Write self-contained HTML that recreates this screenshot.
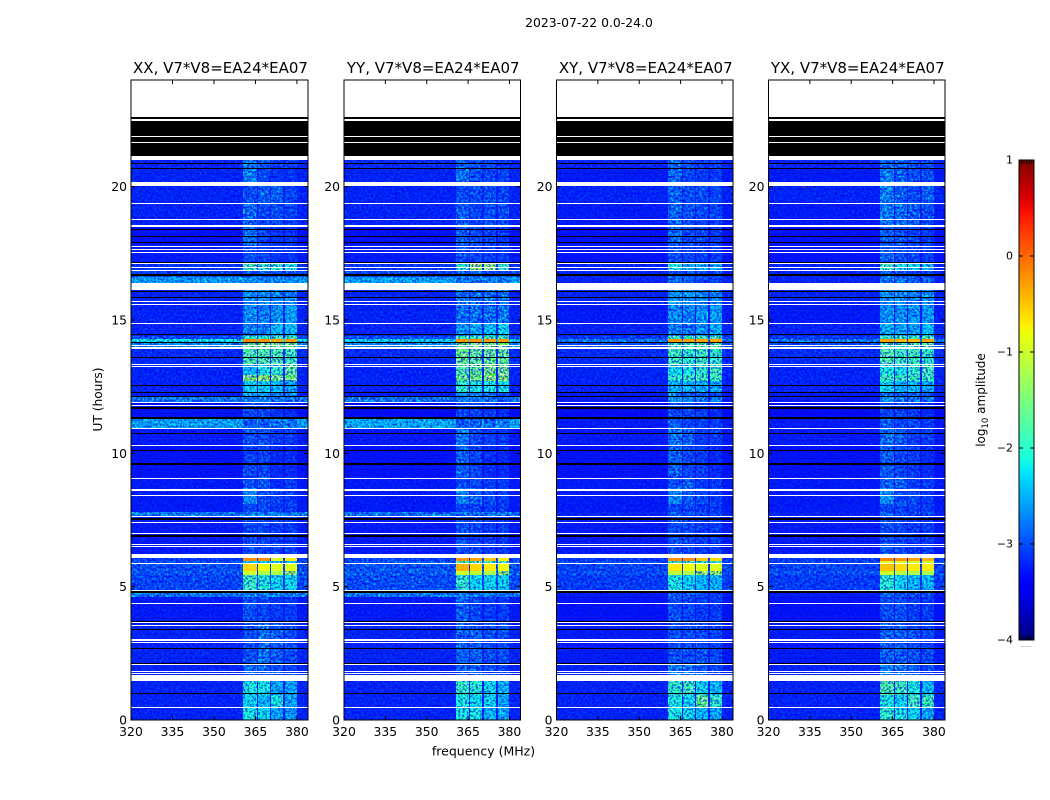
<!DOCTYPE html>
<html lang="en">
<head>
<meta charset="utf-8">
<title>2023-07-22 baseline amplitude</title>
<style>
html,body{margin:0;padding:0;background:#fff;width:1050px;height:800px;overflow:hidden}
svg{display:block}
text{font-family:"DejaVu Sans","Liberation Sans",sans-serif;fill:#000}
.tick{font-size:12.4px}
.speckle{mix-blend-mode:overlay}
</style>
</head>
<body>
<svg id="chart" xmlns="http://www.w3.org/2000/svg" width="1050" height="800" viewBox="0 0 1050 800">
<defs>
<filter id="grain" x="0" y="0" width="100%" height="100%" color-interpolation-filters="sRGB">
<feTurbulence type="fractalNoise" baseFrequency="0.42" numOctaves="2" seed="7"/>
<feColorMatrix type="matrix" values="2.2 0 0 0 -0.6  2.2 0 0 0 -0.6  2.2 0 0 0 -0.6  0 0 0 0 1"/>
</filter>
<filter id="dark-grain" x="0" y="0" width="100%" height="100%" color-interpolation-filters="sRGB">
<feTurbulence type="fractalNoise" baseFrequency="0.46" numOctaves="2" seed="23"/>
<feColorMatrix type="matrix" values="0 0 0 0 0  0 0 0 0 0.12  0 0 0 0 0.85  0 5 0 0 -2.3"/>
</filter>
<linearGradient id="cbar-gradient" x1="0" y1="1" x2="0" y2="0"></linearGradient>
</defs>
<text x="589" y="27" text-anchor="middle" font-size="12.4">2023-07-22 0.0-24.0</text>
<text x="483.5" y="755.5" text-anchor="middle" font-size="12.5">frequency (MHz)</text>
<text transform="translate(102,399.5) rotate(-90)" text-anchor="middle" font-size="12.2">UT (hours)</text>
<text transform="translate(985,400) rotate(-90)" text-anchor="middle" font-size="12">log<tspan font-size="8.5" dy="3">10</tspan><tspan dy="-3"> amplitude</tspan></text>
<text x="1026" y="647" text-anchor="middle" font-size="6" style="fill:#555">......</text>
<g id="panels"></g>
<g id="colorbar"></g>
</svg>
<script>
const xTicks = [320, 335, 350, 365, 380];
const yTicks = [0, 5, 10, 15, 20];
const cbarTicks = [1, 0, -1, -2, -3, -4];
const panelTitles = ["XX, V7*V8=EA24*EA07", "YY, V7*V8=EA24*EA07", "XY, V7*V8=EA24*EA07", "YX, V7*V8=EA24*EA07"];
const panelNames = ["xx", "yy", "xy", "yx"];
const freqEdges = [320, 360.6, 365.4, 365.8, 370.1, 370.7, 375.1, 375.8, 380, 384];
const columnSeries = [0, 1, 0, 2, 0, 3, 0, 4, 0];
const timeEdges = [21.15,20.7,20.02,19.36,18.5,17.8,17.13,16.83,16.62,16.37,15.55,14.9,14.4,14.27,14.12,13.9,13.35,12.95,12.7,12.25,12.11,11.88,11.35,10.93,10.3,9.1,8.7,8.1,7.8,7.6,6.09,5.97,5.86,5.6,5.45,4.84,4.6,3.6,2.1,1.47,0.95,0.5,0];

const ampXX = [
[-3.2,-2.7,-2.9,-3.05,-3.05],[-3.2,-2.65,-3,-3.1,-3.1],[-3.2,-2.95,-2.85,-2.85,-3],[-3.2,-2.8,-3,-2.95,-3],
[-3.3,-2.7,-3,-3.1,-3.1],[-3.25,-2.95,-3,-3.1,-3.1],[-3.1,-1.8,-1.95,-1.95,-2.1],[-3,-2.95,-2.85,-2.95,-2.95],
[-2.5,-2.6,-2.6,-2.6,-2.6],[-3.2,-2.55,-2.55,-2.6,-2.6],[-3.2,-2.6,-2.65,-2.55,-2.45],[-3.2,-2.65,-2.65,-2.3,-2.3],
[-2.95,-1.95,-1.95,-1.75,-1.75],[-2.15,-0.15,-0.2,-0.3,-0.25],[-2.6,-1.6,-1.5,-1.5,-1.5],[-3.15,-1.75,-1.75,-1.75,-1.85],
[-3.2,-2.35,-2.1,-1.95,-1.65],[-3.2,-1.4,-1.3,-1.5,-1.5],[-3.2,-2.2,-2.2,-2.35,-2.45],[-3.25,-2.45,-2.45,-2.55,-2.65],
[-2.7,-2.65,-2.65,-2.75,-2.75],[-3.3,-3,-3,-3.1,-3.15],[-2.45,-2.85,-2.85,-2.75,-2.75],[-3.25,-2.95,-2.95,-3.05,-3.05],
[-3.3,-3,-3,-3.15,-3.15],[-3.25,-2.95,-2.85,-3.15,-3.05],[-3.25,-2.55,-2.95,-3,-3.05],[-3.25,-3,-3,-3.05,-3.05],
[-2.65,-2.65,-2.65,-2.65,-2.65],[-3.25,-3,-3,-3.05,-3.05],[-3.05,-0.2,-0.2,-0.9,-0.7],[-2.95,-2.25,-2.25,-2.25,-2.25],
[-2.95,-0.6,-0.8,-0.9,-0.9],[-2.9,-1,-1.2,-1.2,-1.3],[-3,-1.9,-2.05,-2.2,-2.2],[-2.7,-2.65,-2.65,-2.65,-2.75],
[-3.25,-2.95,-3,-3.05,-3.05],[-3.2,-2.95,-2.75,-2.85,-2.95],[-3.2,-2.75,-2.85,-2.95,-3],[-3.2,-2.1,-2.1,-2.45,-2.45],
[-3.2,-2.2,-2.35,-2.1,-2.45],[-3.2,-2.1,-2.2,-2.45,-2.55]
];
const ampYY = [
[-3.15,-2.8,-2.95,-3,-3.05],[-3.2,-2.7,-2.95,-3,-3],[-3.2,-2.95,-2.95,-2.95,-3],[-3.2,-2.85,-3,-2.95,-2.95],
[-3.3,-2.85,-2.95,-3,-3.05],[-3.25,-2.95,-3,-3.05,-3.05],[-3.1,-2,-1.3,-1.4,-1.95],[-3,-2.85,-2.85,-2.95,-2.95],
[-2.45,-2.7,-2.7,-2.7,-2.7],[-3.2,-2.7,-2.75,-2.75,-2.7],[-3.2,-2.75,-2.75,-2.75,-2.7],[-3.2,-2.55,-2.45,-2.3,-2.2],
[-2.95,-1.85,-1.85,-1.75,-1.75],[-2.2,-0.25,-0.2,-0.25,-0.25],[-2.6,-1.5,-1.5,-1.5,-1.4],[-3.15,-1.55,-1.65,-1.6,-1.6],
[-3.2,-1.75,-1.65,-1.5,-1.5],[-3.2,-1.6,-1.5,-1.4,-1.4],[-3.2,-1.95,-2.1,-2.1,-2.1],[-3.25,-2.55,-2.55,-2.7,-2.85],
[-2.75,-2.7,-2.7,-2.75,-2.85],[-3.35,-3,-3,-3.05,-3.15],[-2.4,-2.85,-2.85,-2.85,-2.7],[-3.25,-2.7,-3,-3.05,-3.05],
[-3.3,-2.85,-3,-3.15,-3.15],[-3.25,-3,-2.95,-3.05,-3.05],[-3.25,-2.6,-2.85,-2.95,-3.05],[-3.25,-3,-3,-3.05,-3.05],
[-2.75,-2.75,-2.75,-2.75,-2.75],[-3.25,-2.95,-3,-3.05,-3.05],[-3,-0.25,-0.3,-0.5,-0.7],[-2.9,-1.75,-1.75,-1.85,-1.85],
[-2.9,-0.4,-0.6,-0.7,-0.8],[-2.85,-1,-1.1,-1.2,-1.3],[-2.95,-1.95,-2.2,-2.2,-2.2],[-2.7,-2.65,-2.65,-2.65,-2.75],
[-3.25,-2.85,-3,-3.05,-3.05],[-3.2,-2.85,-2.85,-2.95,-2.95],[-3.2,-2.85,-2.85,-2.95,-3],[-3.2,-1.9,-2,-2.2,-2.35],
[-3.2,-2.1,-2.2,-2.2,-2.45],[-3.2,-2.1,-2.1,-2.35,-2.45]
];
const ampXY = [
[-3.2,-2.8,-2.95,-3.05,-3.05],[-3.25,-2.8,-3,-3.05,-3.05],[-3.2,-2.85,-2.95,-2.95,-3],[-3.25,-2.8,-2.95,-2.95,-3],
[-3.3,-2.8,-3,-3,-3.05],[-3.3,-2.95,-3,-3.05,-3.05],[-3.2,-2.1,-2.35,-2.35,-2.35],[-3.2,-2.95,-2.95,-3,-3],
[-3.2,-2.75,-2.85,-2.95,-2.95],[-3.2,-2.5,-2.5,-2.6,-2.6],[-3.25,-2.6,-2.65,-2.55,-2.5],[-3.2,-2.65,-2.75,-2.55,-2.4],
[-3.05,-1.85,-1.85,-1.75,-1.75],[-2.7,-0.25,-0.25,-0.3,-0.3],[-3,-1.85,-1.85,-1.75,-1.75],[-3.15,-1.85,-1.95,-1.85,-1.95],
[-3.2,-2.2,-2.1,-1.95,-1.85],[-3.2,-1.95,-1.85,-1.85,-1.85],[-3.2,-2.35,-2.35,-2.45,-2.45],[-3.25,-2.75,-2.85,-2.85,-2.95],
[-3.25,-2.45,-2.55,-2.75,-2.75],[-3.35,-3,-3,-3.05,-3.15],[-3.25,-2.85,-3,-3,-3.05],[-3.25,-2.75,-2.85,-3.05,-3.05],
[-3.3,-2.85,-3,-3.05,-3.15],[-3.25,-2.95,-2.85,-3.05,-3.05],[-3.25,-2.6,-2.85,-2.95,-3.05],[-3.25,-3,-3,-3.05,-3.05],
[-3.2,-2.85,-2.95,-3,-3],[-3.25,-2.95,-3,-3.05,-3.05],[-3.05,-0.2,-0.2,-0.5,-0.6],[-3,-1.85,-1.85,-1.95,-1.95],
[-3,-0.7,-0.8,-0.9,-0.9],[-2.95,-1.1,-1.2,-1.3,-1.3],[-3.05,-2.1,-2.2,-2.35,-2.35],[-3.25,-2.85,-2.95,-2.95,-3],
[-3.3,-2.95,-3,-3.05,-3.05],[-3.25,-2.95,-2.95,-2.95,-3],[-3.2,-2.65,-2.75,-2.85,-3],[-3.2,-1.95,-1.85,-2.2,-2.35],
[-3.2,-2.1,-2.2,-1.6,-1.95],[-3.2,-2.1,-2.2,-2.35,-2.45]
];
const ampYX = [
[-3.2,-2.8,-2.85,-2.95,-3],[-3.25,-2.7,-2.85,-2.95,-2.95],[-3.2,-2.7,-2.85,-2.95,-2.85],[-3.25,-2.7,-2.75,-2.85,-2.95],
[-3.3,-2.85,-2.95,-3,-3.05],[-3.3,-2.85,-2.95,-3,-3.05],[-3.2,-1.85,-2.1,-2.2,-2.35],[-3.2,-2.85,-2.95,-3,-3],
[-3.2,-2.7,-2.75,-2.85,-2.85],[-3.2,-2.55,-2.55,-2.6,-2.6],[-3.25,-2.55,-2.55,-2.55,-2.5],[-3.2,-2.4,-2.45,-2.45,-2.3],
[-3.05,-1.85,-1.85,-1.85,-1.75],[-2.7,-0.3,-0.4,-0.4,-0.3],[-3,-1.85,-1.85,-1.75,-1.75],[-3.15,-1.75,-1.85,-1.85,-1.95],
[-3.2,-2.1,-2.1,-1.95,-1.85],[-3.2,-1.85,-1.85,-1.85,-1.85],[-3.2,-2.2,-2.35,-2.35,-2.45],[-3.25,-2.75,-2.85,-2.85,-2.95],
[-3.25,-2.55,-2.7,-2.75,-2.75],[-3.35,-3,-3,-3.05,-3.15],[-3.25,-2.85,-3,-3,-3.05],[-3.25,-2.75,-2.85,-3.05,-3.05],
[-3.3,-2.85,-3,-3.05,-3.15],[-3.25,-2.85,-2.85,-3.05,-3.05],[-3.25,-2.55,-2.95,-2.95,-3.05],[-3.25,-3,-3,-3.05,-3.05],
[-3.2,-2.85,-2.95,-3,-3],[-3.25,-2.95,-3,-3.05,-3.05],[-3.05,-0.15,-0.2,-0.3,-0.4],[-3,-0.9,-0.9,-1,-1],
[-3,-0.5,-0.6,-0.7,-0.7],[-2.95,-1,-1.1,-1.2,-1.2],[-3.05,-2,-2.2,-2.35,-2.35],[-3.25,-2.85,-2.95,-2.95,-3],
[-3.3,-2.95,-2.95,-3.05,-3.05],[-3.25,-2.85,-2.85,-2.95,-3],[-3.2,-2.65,-2.75,-2.85,-3],[-3.2,-1.75,-1.85,-2.1,-2.35],
[-3.2,-2.1,-2.2,-1.85,-1.85],[-3.2,-1.95,-2.1,-2.2,-2.45]
];
const panelAmps = [ampXX, ampYY, ampXY, ampYX];

const whiteFlags = [[24,22.62],[22.52,22.48],[21.9,21.86],[21.68,21.64],[21.15,21],[20.17,20.02],[19.39,19.36],[18.8,18.76],[18.58,18.5],[17.77,17.73],[17.68,17.64],[17.55,17.52],[17.13,17.1],[16.99,16.95],[16.86,16.83],[16.37,16.12],[15.7,15.66],[15.59,15.55],[14.89,14.85],[14.07,14.03],[13.97,13.93],[13.34,13.3],[13.26,13.23],[11.92,11.88],[11.83,11.79],[10.94,10.9],[10.32,10.28],[9.09,9.06],[8.66,8.59],[8.44,8.41],[7.64,7.6],[7.43,7.4],[7.02,6.98],[6.61,6.57],[6.51,6.47],[6.24,6.09],[5.89,5.86],[4.87,4.84],[4.39,4.36],[3.67,3.63],[3.57,3.53],[3.02,2.98],[2.94,2.91],[2.11,2.07],[1.83,1.79],[1.76,1.72],[1.7,1.47],[0.49,0.46]];
const blackFlags = [[22.62,22.52],[22.48,21.9],[21.86,21.68],[21.64,21.15],[20.9,20.86],[20.7,20.66],[18.41,18.37],[18.15,18.11],[17.94,17.9],[17.19,17.15],[16.72,16.65],[16.1,16.05],[15.85,15.81],[14.48,14.44],[14.17,14.13],[13.6,13.56],[12.55,12.51],[12.3,12.26],[12.14,12.1],[11.73,11.66],[11.36,11.3],[10.78,10.72],[10.14,10.1],[9.64,9.58],[7.56,7.49],[6.92,6.88],[4.83,4.78],[3.71,3.67],[3.41,3.37],[2.71,2.67],[2.15,2.1],[1.03,0.99]];
const outliers = [[3, 332.5, 20.0, 0.4]];

const SVGNS = "http://www.w3.org/2000/svg";
const panelsGroup = document.getElementById("panels");
const axesLeft = [131, 344, 556.5, 768.5];
const axesWidth = [177, 176.5, 176.5, 176.5];
const axesTop = 80, axesBottom = 720;
const freqMin = 320, freqMax = 384, hourMax = 24;
const cbarLeft = 1019, cbarRight = 1034, cbarTop = 160, cbarBottom = 640;
const cbarMin = -4, cbarMax = 1;
const smoothAbove = -1.3;

function make(tag, attrs, parent) {
  const el = document.createElementNS(SVGNS, tag);
  for (const k in attrs) el.setAttribute(k, attrs[k]);
  parent.appendChild(el);
  return el;
}
function scaleY(h) { return axesTop + (hourMax - h) * (axesBottom - axesTop) / hourMax; }
function scaleX(p, f) { return axesLeft[p] + (f - freqMin) * axesWidth[p] / (freqMax - freqMin); }
function ramp(v, pts) {
  for (let i = 1; i < pts.length; i++) {
    if (v <= pts[i][0]) {
      const t = (v - pts[i-1][0]) / (pts[i][0] - pts[i-1][0]);
      return pts[i-1][1] + t * (pts[i][1] - pts[i-1][1]);
    }
  }
  return pts[pts.length-1][1];
}
function jet(v) {
  const f = Math.max(0, Math.min(1, (v - cbarMin) / (cbarMax - cbarMin)));
  const r = ramp(f, [[0,0],[0.35,0],[0.66,1],[0.89,1],[1,0.5]]);
  const g = ramp(f, [[0,0],[0.125,0],[0.375,1],[0.64,1],[0.91,0],[1,0]]);
  const b = ramp(f, [[0,0.5],[0.11,1],[0.34,1],[0.65,0],[1,0]]);
  return "rgb(" + Math.round(r*255) + "," + Math.round(g*255) + "," + Math.round(b*255) + ")";
}
function drawCells(p, parent, bright) {
  panelAmps[p].forEach(function (row, r) {
    const y0 = Math.round(scaleY(timeEdges[r])), y1 = Math.round(scaleY(timeEdges[r + 1]));
    columnSeries.forEach(function (s, c) {
      if ((row[s] > smoothAbove) !== bright) return;
      const x0 = Math.round(scaleX(p, freqEdges[c])), x1 = Math.round(scaleX(p, freqEdges[c + 1]));
      const cell = make("rect", {x: x0, y: y0, width: x1 - x0, height: y1 - y0, fill: jet(row[s])}, parent);
      
      
    });
  });
}

panelTitles.forEach(function (title, p) {
  const L = axesLeft[p], W = axesWidth[p], R = L + W;
  const g = make("g", {}, panelsGroup);
  
  

  const heat = make("g", {"shape-rendering": "crispEdges", style: "isolation:isolate"}, g);
  
  
  drawCells(p, heat, false);
  const top = scaleY(timeEdges[0]);
  const speckle = make("rect", {x: L, y: top, width: W, height: axesBottom - top, fill: "#808080", filter: "url(#grain)", "class": "speckle", opacity: "0.9"}, heat);
  
  
  const darkSpeckle = make("rect", {x: L, y: top, width: W, height: axesBottom - top, fill: "#000", filter: "url(#dark-grain)", opacity: "0.7"}, heat);
  
  
  drawCells(p, heat, true);

  const flags = make("g", {"shape-rendering": "crispEdges"}, g);
  
  
  blackFlags.forEach(function (b) {
    const y0 = Math.round(scaleY(b[0]));
    const h = Math.max(1, Math.round(scaleY(b[1])) - y0);
    const band = make("rect", {x: L, y: y0, width: W, height: h, fill: "#000"}, flags);
    
    
  });
  whiteFlags.forEach(function (b) {
    const y0 = Math.round(scaleY(b[0]));
    const h = Math.max(1, Math.round(scaleY(b[1])) - y0);
    const band = make("rect", {x: L, y: y0, width: W, height: h, fill: "#fff"}, flags);
    
    
  });
  outliers.forEach(function (o) {
    if (o[0] !== p) return;
    const spot = make("rect", {x: Math.round(scaleX(p, o[1])), y: Math.round(scaleY(o[2])), width: 2, height: 1, fill: jet(o[3])}, flags);
    
    
  });

  const frame = make("rect", {x: L, y: axesTop, width: W, height: axesBottom - axesTop, fill: "none", stroke: "#000", "stroke-width": 1}, g);
  
  

  const t = make("text", {x: L + W / 2 + 1, y: 73, "text-anchor": "middle", "font-size": 15}, g);
  t.textContent = title;
  
  

  xTicks.forEach(function (v) {
    const x = scaleX(p, v);
    const a = make("path", {d: "M" + x + " " + axesBottom + "v-4M" + x + " " + axesTop + "v4", stroke: "#000", "stroke-width": 1, fill: "none"}, g);
    
    
    const l = make("text", {x: x, y: 736, "text-anchor": "middle", "class": "tick"}, g);
    l.textContent = v;
    
    
  });
  yTicks.forEach(function (v) {
    const y = scaleY(v);
    const a = make("path", {d: "M" + L + " " + y + "h4M" + R + " " + y + "h-4", stroke: "#000", "stroke-width": 1, fill: "none"}, g);
    
    
    const l = make("text", {x: L - 4, y: y + 4.5, "text-anchor": "end", "class": "tick"}, g);
    l.textContent = v;
    
    
  });
});

const grad = document.getElementById("cbar-gradient");
for (let i = 0; i <= 50; i++) {
  make("stop", {offset: (i / 50), "stop-color": jet(cbarMin + (cbarMax - cbarMin) * i / 50)}, grad);
}
const cbarGroup = document.getElementById("colorbar");
const bar = make("rect", {x: cbarLeft, y: cbarTop, width: cbarRight - cbarLeft, height: cbarBottom - cbarTop, fill: "url(#cbar-gradient)", stroke: "#000", "stroke-width": 1}, cbarGroup);


function cbarY(v) { return cbarTop + (cbarMax - v) * (cbarBottom - cbarTop) / (cbarMax - cbarMin); }
cbarTicks.forEach(function (v) {
  const y = cbarY(v);
  const a = make("path", {d: "M" + cbarLeft + " " + y + "h4M" + cbarRight + " " + y + "h-4", stroke: "#000", "stroke-width": 1, fill: "none"}, cbarGroup);
  
  
  const l = make("text", {x: 1013, y: y + 3.5, "text-anchor": "end", "font-size": 11}, cbarGroup);
  l.textContent = String(v).replace("-", "\u2212");
  
  
});
for (let i = 1; i <= 5; i++) {
  const x = cbarLeft + i * (cbarRight - cbarLeft) / 6;
  const m = make("path", {d: "M" + x + " " + cbarTop + "v4M" + x + " " + cbarBottom + "v-4", stroke: "#000", "stroke-width": 1, fill: "none"}, cbarGroup);
  
  
}
</script>
</body>
</html>
